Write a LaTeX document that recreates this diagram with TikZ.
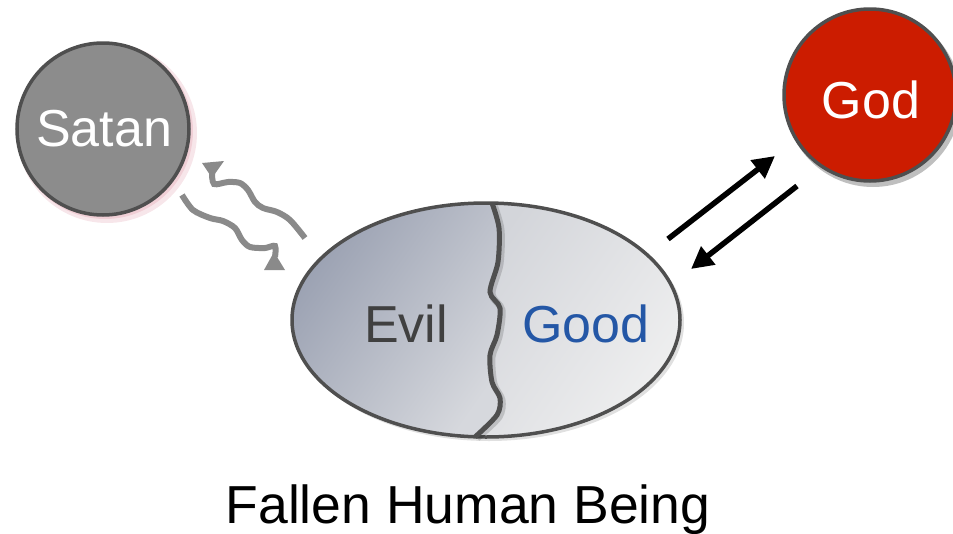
\documentclass[tikz,border=0pt]{standalone}
\usepackage{fontspec}
\setmainfont{Liberation Sans}
\usetikzlibrary{arrows.meta,shapes.geometric}
\definecolor{edge}{HTML}{4F4F4F}
\definecolor{satanfill}{HTML}{8C8C8C}
\definecolor{godfill}{HTML}{CC1C00}
\definecolor{evilA}{HTML}{959CAE}
\definecolor{evilB}{HTML}{D6D8DD}
\definecolor{goodA}{HTML}{D3D5DA}
\definecolor{goodB}{HTML}{F2F2F2}
\definecolor{eviltext}{HTML}{404040}
\definecolor{goodtext}{HTML}{2457A6}
\definecolor{wave}{HTML}{8A8A8A}
\definecolor{pinkglow}{HTML}{E9B8C2}
\begin{document}
\begin{tikzpicture}[x=1pt,y=-1pt,
  bigtext/.style={font=\fontsize{52}{60}\selectfont, inner sep=0pt, anchor=base},
  orb/.style={circle, minimum size=172pt, inner sep=0pt, line width=3.5pt, draw=edge},
  wavy/.style={draw=wave, line width=6pt, line cap=butt},
  wavehead/.style={fill=wave, draw=none},
  link/.style={line width=5.5pt, -{Triangle[length=22pt,width=22pt]}}]
\useasboundingbox (0,0) rectangle (953,533);

% shadows / glows
\fill[pinkglow, opacity=0.35] (107,133) circle (90pt);
\fill[pinkglow, opacity=0.5] (105,131) circle (88pt);
\fill[black, opacity=0.25] (873,99) circle (88pt);
\fill[black, opacity=0.12] (489,323) ellipse [x radius=195pt, y radius=118pt];

% circles
\node[orb, fill=satanfill] (satan) at (103,129) {};
\node[orb, fill=godfill] (god) at (870,95) {};

% ellipse halves
\begin{scope}
\clip (486,320) ellipse [x radius=194pt, y radius=117pt];
\shade[left color=evilA, right color=evilB, shading angle=55]
  (280,190) -- (492,190) -- plot[smooth] coordinates {(492,203) (499,228) (498,262) (490,292) (500,308) (497,335) (490,355) (492,382) (500,398) (497,415) (475,437)} -- (475,450) -- (280,450) -- cycle;
\shade[left color=goodA, right color=goodB, shading angle=55]
  (700,190) -- (492,190) -- plot[smooth] coordinates {(492,203) (499,228) (498,262) (490,292) (500,308) (497,335) (490,355) (492,382) (500,398) (497,415) (475,437)} -- (475,450) -- (700,450) -- cycle;
\end{scope}
\node[ellipse, minimum width=388pt, minimum height=234pt, inner sep=0pt, draw=edge, line width=3.5pt] (human) at (486,320) {};
% crack
\draw[black, opacity=0.15, line width=7pt] plot[smooth] coordinates {(494,205) (501,230) (500,264) (492,294) (502,310) (499,337) (492,357) (494,384) (502,400) (499,417) (477,438)};
\draw[edge, line width=5pt] plot[smooth] coordinates {(492,203) (499,228) (498,262) (490,292) (500,308) (497,335) (490,355) (492,382) (500,398) (497,415) (475,437)};

% texts
\node[bigtext, text=white] (satantext) at (104,146) {Satan};
\node[bigtext, text=white] (godtext) at (871,118) {God};
\node[bigtext, text=eviltext] (evil) at (406,342) {Evil};
\node[bigtext, text=goodtext] (good) at (586,342) {Good};
\node[bigtext, font=\fontsize{53.5}{60}\selectfont, text=black] (caption) at (468,523) {Fallen Human Being};

% wavy arrows between Satan and human
\coordinate (w1s) at (305,238);
\coordinate (w2s) at (182,195);
\draw[wavy] plot[smooth] coordinates {(w1s) (290,220) (277,212) (263,208) (255,202) (248,190) (240,183) (228,182) (214,184) (212,172)};
\fill[wavehead] (202,163) -- (224,161) -- (212,178) -- cycle;
\draw[wavy] plot[smooth] coordinates {(w2s) (193,210) (210,218) (223,221) (235,228) (242,240) (250,247) (265,248) (275,246) (275,257)};
\fill[wavehead] (264,270) -- (285,270) -- (274,252) -- cycle;

% arrows between human and God
\coordinate (up1) at (668,239);
\coordinate (up2) at (775,156);
\coordinate (dn1) at (797,186);
\coordinate (dn2) at (691,269);
\draw[link] (up1) -- (up2);
\draw[link] (dn1) -- (dn2);
\end{tikzpicture}
\end{document}
